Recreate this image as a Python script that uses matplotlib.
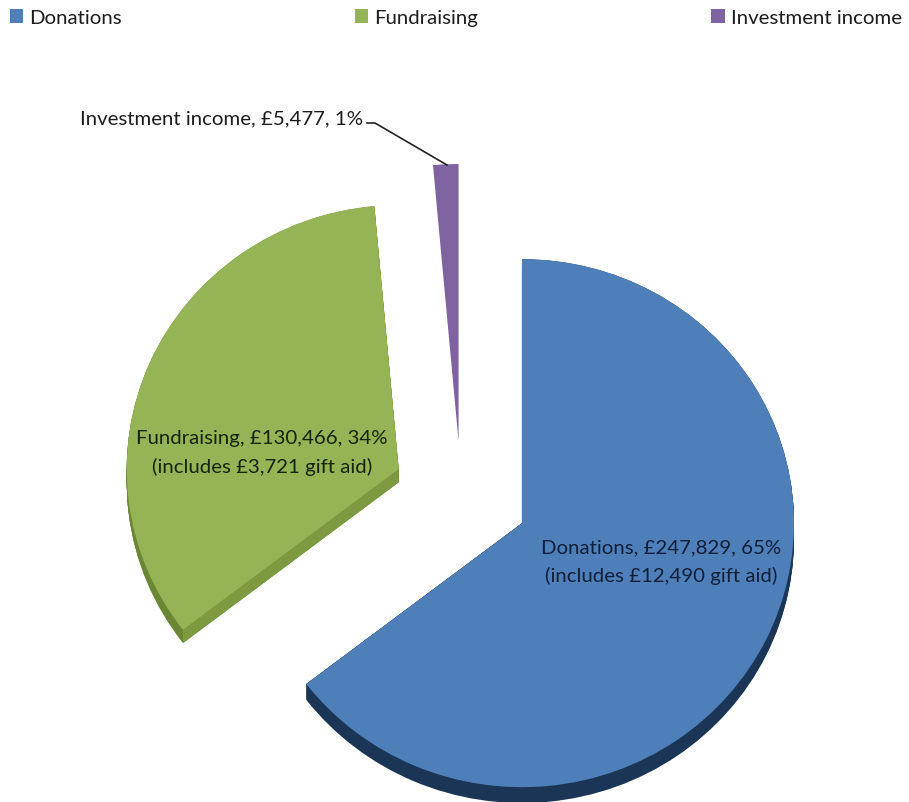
import numpy as np
import matplotlib
matplotlib.use("Agg")
import matplotlib.pyplot as plt
from matplotlib.lines import Line2D
from matplotlib.patches import Polygon, Wedge

# Ingresos por categoria
categorias = ["Donations", "Fundraising", "Investment income"]
valores = [247829, 130466, 5477]
porcentajes = [65, 34, 1]
gift_aid = [12490, 3721, None]

colores = ["#4f7fb9", "#95b455", "#7f62a0"]
colores_lado = ["#1b3556", "#6b8734", "#4a3763"]
colores_corte = ["#1b3556", "#7d9a40", "#4a3763"]
explode = [0.25, 0.25, 0.2]
radios = [1.0, 1.0, 1.05]
profundidad = [0.06, 0.05, 0.0]

ANCHO, ALTO = 909, 803
CX, CY, RX, RY = 461, 495, 272, 264

plt.rcParams["font.family"] = ["Lato", "DejaVu Sans"]
fig = plt.figure(figsize=(ANCHO / 100, ALTO / 100), dpi=100)
ax = fig.add_axes([0, 0, 1, 1])


def etiqueta(i):
    texto = f"{categorias[i]}, £{valores[i]:,}, {porcentajes[i]}%"
    if gift_aid[i] is not None:
        texto += f"\n(includes £{gift_aid[i]:,} gift aid)"
    return texto


# Cara superior de la torta
wedges, _ = ax.pie(valores, explode=explode, startangle=90, counterclock=False,
                   colors=colores, wedgeprops={"linewidth": 0})
ax.set_aspect("auto")
ax.set_xlim(-CX / RX, (ANCHO - CX) / RX)
ax.set_ylim(-(ALTO - CY) / RY, CY / RY)

# El sector verde queda un poco mas abajo que su desplazamiento radial
wedges[1].set_center((wedges[1].center[0], wedges[1].center[1] - 0.006))

# Lateral: copias oscuras desplazadas hacia abajo
for i, w in enumerate(wedges):
    w.set_radius(radios[i])
    w.set_zorder(5)
    prof = profundidad[i]
    if prof == 0:
        continue
    cx, cy = w.center
    for d in np.linspace(prof, 0, 15):
        ax.add_patch(Wedge((cx, cy - d), radios[i], w.theta1, w.theta2,
                           color=colores_lado[i], lw=0, zorder=2))
    # Pared recta del corte que mira al frente
    ang = np.radians(w.theta2 if i == 1 else w.theta1)
    borde = (cx + radios[i] * np.cos(ang), cy + radios[i] * np.sin(ang))
    ax.add_patch(Polygon([(cx, cy), borde, (borde[0], borde[1] - prof), (cx, cy - prof)],
                         color=colores_corte[i], lw=0, zorder=3))


def px(x, y):
    return x / ANCHO, 1 - y / ALTO


# Etiquetas de datos
fuente = 14.7
fig.text(*px(221, 118.5), etiqueta(2), ha="center", va="center", fontsize=fuente,
         color="#1c1c1c", zorder=10)
fig.text(*px(262, 453), etiqueta(1), ha="center", va="center", fontsize=fuente,
         color="#16240c", linespacing=1.7, zorder=10)
fig.text(*px(661, 562), etiqueta(0), ha="center", va="center", fontsize=fuente,
         color="#0e1f3a", linespacing=1.7, zorder=10)

# Linea guia del sector chico
xs, ys = zip(px(367, 124), px(375, 124), px(447, 166))
fig.add_artist(Line2D(xs, ys, color="#222222", lw=1.2, zorder=10))

# Leyenda arriba
ax.legend(wedges, categorias, loc="upper left", bbox_to_anchor=px(10, 10),
          bbox_transform=fig.transFigure, ncol=3, frameon=False, fontsize=fuente,
          handlelength=0.66, handleheight=0.66, handletextpad=0.3,
          columnspacing=11.4, borderpad=0, borderaxespad=0, labelcolor="#1c1c1c")

fig.savefig("out.png", dpi=100)
